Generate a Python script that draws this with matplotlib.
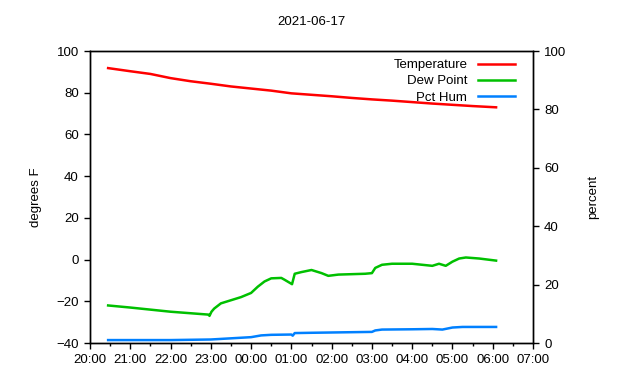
import matplotlib
matplotlib.use('Agg')
import matplotlib.pyplot as plt

plt.rcParams['font.family'] = ['Liberation Sans', 'DejaVu Sans']

# times are "HH:MM" after 20:00 on the 17th, rolling past midnight
temp_times = ['20:27', '21:00', '21:30', '22:00', '22:30', '23:00', '23:30', '00:00', '00:30',
              '01:00', '01:30', '02:00', '02:30', '03:00', '03:30', '04:00', '04:30', '05:00',
              '05:30', '06:05']
temp_vals = [91.8, 90.3, 89.0, 87.0, 85.5, 84.3, 83.0, 82.0, 81.0,
             79.7, 79.0, 78.3, 77.5, 76.8, 76.2, 75.5, 74.8, 74.2,
             73.6, 73.0]

dew_times = ['20:27', '21:00', '22:00', '22:57', '22:58', '23:01', '23:05', '23:15', '23:30',
             '23:45', '00:00', '00:10', '00:20', '00:30', '00:45', '00:50', '01:01', '01:05',
             '01:15', '01:30', '01:45', '01:55', '02:10', '02:30', '02:50', '03:00', '03:05',
             '03:15', '03:30', '04:00', '04:15', '04:30', '04:40', '04:50', '05:00', '05:10',
             '05:20', '05:40', '06:05']
dew_vals = [-22.0, -23.0, -25.0, -26.4, -27.0, -25.0, -23.5, -21.0, -19.5,
            -18.0, -16.0, -13.0, -10.5, -9.0, -8.8, -9.7, -11.8, -6.8,
            -6.0, -5.0, -6.5, -7.8, -7.2, -7.0, -6.8, -6.5, -4.0,
            -2.5, -2.0, -2.0, -2.5, -3.0, -2.0, -3.0, -1.0, 0.5,
            1.0, 0.5, -0.5]

hum_times = ['20:27', '22:00', '23:00', '23:30', '00:00', '00:15', '00:30', '01:00', '01:02',
             '01:05', '01:30', '02:00', '02:30', '03:00', '03:05', '03:15', '04:00', '04:30',
             '04:45', '05:00', '05:15', '06:05']
hum_vals = [1.0, 1.0, 1.2, 1.6, 2.0, 2.6, 2.8, 2.9, 2.5,
            3.4, 3.5, 3.6, 3.7, 3.8, 4.3, 4.6, 4.7, 4.8,
            4.6, 5.3, 5.5, 5.5]

tick_labels = ['20:00', '21:00', '22:00', '23:00', '00:00', '01:00', '02:00', '03:00',
               '04:00', '05:00', '06:00', '07:00']


def to_hours(times):
    out = []
    for t in times:
        h, m = t.split(':')
        h = int(h)
        if h < 20:
            h += 24
        out.append(h - 20 + int(m) / 60.0)
    return out


fig = plt.figure(figsize=(6.4, 3.8), dpi=100)
ax = fig.add_axes([90 / 640, 37 / 380, 443 / 640, 292 / 380])
ax2 = ax.twinx()

l1, = ax.plot(to_hours(temp_times), temp_vals, color='#ff0000', lw=1.8, label='Temperature')
l2, = ax.plot(to_hours(dew_times), dew_vals, color='#00c000', lw=1.8, label='Dew Point')
l3, = ax2.plot(to_hours(hum_times), hum_vals, color='#0080ff', lw=1.8, label='Pct Hum')

ax.set_xlim(0, 11)
ax.set_ylim(-40, 100)
ax2.set_ylim(0, 100)
ax.set_xticks(range(len(tick_labels)))
ax.set_xticklabels(tick_labels)
ax.set_xticks([i + 0.5 for i in range(11)], minor=True)
ax.set_yticks(range(-40, 101, 20))
ax2.set_yticks(range(0, 101, 20))

for a in (ax, ax2):
    a.tick_params(direction='out', length=4, width=1, labelsize=9.5, pad=4, colors='black')
    a.tick_params(which='minor', direction='out', length=2, width=1)
    for s in a.spines.values():
        s.set_linewidth(1)

ax.set_ylabel('degrees F', fontsize=9.5, labelpad=10)
ax2.set_ylabel('percent', fontsize=9.5, labelpad=15)
ax.set_title('2021-06-17', fontsize=9.5, pad=19)

leg = ax2.legend(handles=[l1, l2, l3], loc='upper right', bbox_to_anchor=(0.959, 0.973),
                 frameon=False, markerfirst=False, fontsize=9.5, handlelength=2.8,
                 handletextpad=0.8, labelspacing=0.3, borderpad=0, borderaxespad=0)

fig.savefig('out.png', dpi=100)
